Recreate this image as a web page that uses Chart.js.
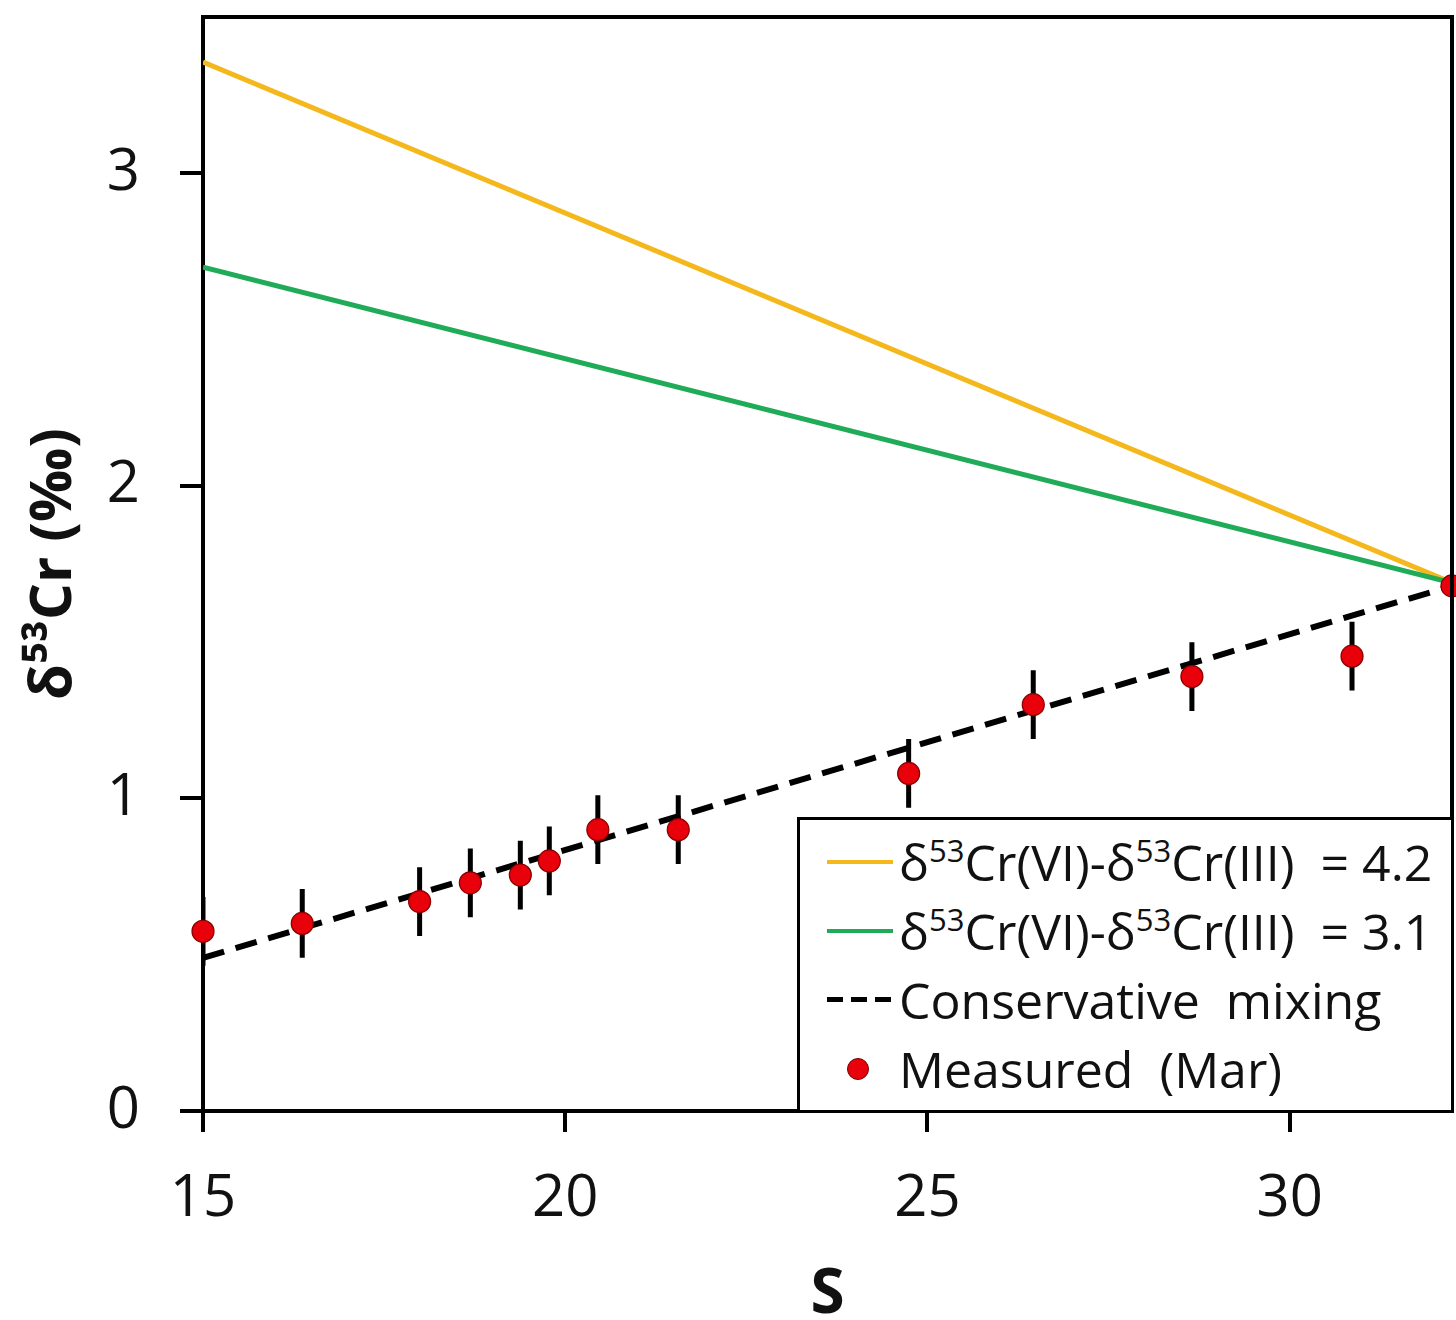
<!DOCTYPE html>
<html>
<head>
<meta charset="utf-8">
<script src="https://cdn.jsdelivr.net/npm/chart.js@4.4.0/dist/chart.umd.min.js"></script>
<style>
  html, body { margin: 0; padding: 0; background: #fff; }
  #wrap { position: relative; width: 1456px; height: 1320px; overflow: hidden; }
  #legend {
    position: absolute; box-sizing: border-box; background: #fff;
    border: 3px solid #000; font-family: "Open Sans", sans-serif; font-size: 50px; color: #111;
    padding: 7px 0 0 27px;
  }
  .row { display: flex; align-items: center; height: 69px; white-space: pre; }
  .sample { width: 66px; height: 4px; margin-right: 6px; }
  .row sup { font-size: 0.62em; vertical-align: 0.6em; line-height: 0; }
  .dot { width: 22px; height: 22px; border-radius: 50%; background: #e8000b; border: 1px solid #7a0000; margin: 0 30px 0 20px; box-sizing: border-box; }
</style>
</head>
<body>
<div id="wrap">
  <canvas id="c" width="1456" height="1320"></canvas>
  <div id="legend"></div>
</div>
<script>
// ---- data ----
const sMeasured   = [15.0, 16.37, 17.99, 18.69, 19.38, 19.78, 20.45, 21.56, 24.74, 26.46, 28.65, 30.86, 32.24];
const d53Measured = [0.575, 0.60, 0.67, 0.73, 0.755, 0.80, 0.90, 0.90, 1.08, 1.30, 1.39, 1.455, 1.68];
const d53Error    = [0.11, 0.11, 0.11, 0.11, 0.11, 0.11, 0.11, 0.11, 0.11, 0.11, 0.11, 0.11, 0];
const sLine       = [15, 32.24];
const frac42      = [3.356, 1.69];
const frac31      = [2.70, 1.69];
const mixing      = [0.49, 1.68];
const xTicks      = [15, 20, 25, 30];
const yTicks      = [0, 1, 2, 3];
const seriesNames = ['δ<sup>53</sup>Cr(VI)-δ<sup>53</sup>Cr(III)  = 4.2',
                     'δ<sup>53</sup>Cr(VI)-δ<sup>53</sup>Cr(III)  = 3.1',
                     'Conservative  mixing',
                     'Measured  (Mar)'];

const YELLOW = '#f4b81c', GREEN = '#1fab58', RED = '#e8000b';

const toXY = (xs, ys) => xs.map((x, i) => ({x: x, y: ys[i]}));
const errData = [];
sMeasured.forEach((s, i) => {
  if (d53Error[i] > 0) {
    errData.push({x: s, y: d53Measured[i] - d53Error[i]});
    errData.push({x: s, y: d53Measured[i] + d53Error[i]});
    errData.push({x: s, y: null});
  }
});

const frame = {
  id: 'frame',
  afterDatasetsDraw(chart) {
    const a = chart.chartArea, ctx = chart.ctx;
    ctx.save();
    ctx.strokeStyle = '#000'; ctx.lineWidth = 4;
    ctx.beginPath();
    ctx.moveTo(a.left, a.top); ctx.lineTo(a.right, a.top); ctx.lineTo(a.right, a.bottom);
    ctx.stroke();
    ctx.restore();
  },
  afterRender(chart) {
    const a = chart.chartArea, lg = document.getElementById('legend');
    lg.style.left = (a.left + 594) + 'px';
    lg.style.top = (a.bottom - 294) + 'px';
    lg.style.width = (a.right - a.left - 594 + 2) + 'px';
    lg.style.height = '296px';
  }
};

const noPad = s => { s.paddingTop = 0; s.paddingBottom = 0; s.paddingLeft = 0; s.paddingRight = 0; };
const tickFont = {family: '"Open Sans", sans-serif', size: 58};
new Chart(document.getElementById('c'), {
  type: 'scatter',
  data: {
    datasets: [
      {label: 'measured', data: toXY(sMeasured, d53Measured), pointRadius: 11, pointBackgroundColor: RED,
       pointBorderColor: '#8a0000', pointBorderWidth: 1.2, order: 0, clip: false},
      {label: 'err', data: errData, showLine: true, spanGaps: false, pointRadius: 0, borderColor: '#000',
       borderWidth: 5, order: 1},
      {label: 'mix', data: toXY(sLine, mixing), showLine: true, pointRadius: 0, borderColor: '#000',
       borderWidth: 6, borderDash: [22, 12], order: 2},
      {label: '3.1', data: toXY(sLine, frac31), showLine: true, pointRadius: 0, borderColor: GREEN,
       borderWidth: 5, order: 3},
      {label: '4.2', data: toXY(sLine, frac42), showLine: true, pointRadius: 0, borderColor: YELLOW,
       borderWidth: 5, order: 4}
    ]
  },
  options: {
    responsive: false, animation: false, events: [],
    layout: {autoPadding: false, padding: {top: 17, right: 4, left: 0, bottom: 0}},
    plugins: {legend: {display: false}, tooltip: {enabled: false}},
    scales: {
      x: {
        type: 'linear', min: sLine[0], max: sLine[1],
        afterBuildTicks: s => { s.ticks = xTicks.map(v => ({value: v})); },
        ticks: {font: tickFont, color: '#111', padding: 33, maxRotation: 0},
        grid: {drawOnChartArea: false, color: '#000', lineWidth: 4, tickLength: 21},
        border: {color: '#000', width: 4},
        title: {display: true, text: 'S', color: '#111', padding: {top: 0, bottom: 0},
                font: {family: '"Open Sans", sans-serif', size: 62, weight: 'bold', lineHeight: 0.8}},
        afterFit: s => { s.height = 209; noPad(s); }
      },
      y: {
        type: 'linear', min: 0, max: 3.5,
        afterBuildTicks: s => { s.ticks = yTicks.map(v => ({value: v})); },
        ticks: {font: tickFont, color: '#111', padding: 40},
        grid: {drawOnChartArea: false, color: '#000', lineWidth: 4, tickLength: 23},
        border: {color: '#000', width: 4},
        title: {display: true, text: 'δ⁵³Cr (‰)', color: '#111', padding: {top: 20, bottom: 4},
                font: {family: '"Open Sans", sans-serif', size: 58, weight: 'bold'}},
        afterFit: s => { s.width = 203; noPad(s); }
      }
    }
  },
  plugins: [frame]
});

// legend (HTML, for superscripts)
const samples = [
  `<div class="sample" style="background:${YELLOW}"></div>`,
  `<div class="sample" style="background:${GREEN}"></div>`,
  `<div class="sample" style="height:5px;background:repeating-linear-gradient(90deg,#000 0 16px,transparent 16px 24px)"></div>`,
  `<div class="dot"></div>`
];
document.getElementById('legend').innerHTML = seriesNames.map((n, i) =>
  `<div class="row">${samples[i]}<span>${n}</span></div>`).join('');
</script>
</body>
</html>
